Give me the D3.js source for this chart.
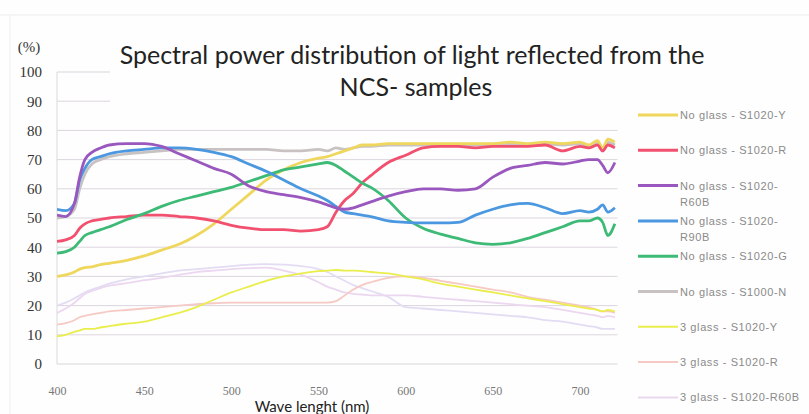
<!DOCTYPE html>
<html>
<head>
<meta charset="utf-8">
<script src="https://cdn.jsdelivr.net/npm/d3@7/dist/d3.min.js"></script>
<style>
  html, body { margin: 0; padding: 0; background: #fff; }
  #chartDiv { width: 809px; height: 414px; }
</style>
</head>
<body>
<div id="chartDiv"></div>
<script>
'use strict';

const wavelengths = [400,405,410,413,416,420,425,430,440,450,460,470,480,490,500,510,520,530,540,550,555,560,565,570,575,580,590,600,610,620,630,640,650,660,670,680,690,700,705,710,713,716,720];

// reflectance (%) per sample
const noGlassY    = [30,30.5,31.5,32.5,33,33.3,34,34.5,35.5,37,39,41,44,48,53,58,63,66.5,69,70.5,71,72,73,74,75,75,75.5,75.5,75.5,75.5,75.5,75.5,75.5,76,75.5,76,75.5,76,75,76.5,74,77,76];
const noGlassR    = [42,42.5,44,46.5,48,49,49.5,50,50.5,51,51,50.5,50,49,47.5,46.5,46,46,45.5,46,47,52,56,58.5,62,64.5,69,71.5,74,74.5,74.5,74,74.5,74.5,74.5,75,73,74.5,74,75,73,75,74];
const noGlassR60B = [51,50.5,55,64,70,72.5,74,75,75.5,75.5,74.5,72,69.5,67,65,61,59,58,57,55.5,54.5,53.5,53,53.5,54.5,55.5,57.5,59,60,60,59.5,60,64,67,68,69,68.5,69.5,70,70,68,65.5,69];
const noGlassR90B = [53,52.5,55,63,67,70,71,72,73,73.5,74,74,73.5,72.5,71,68.5,66,63,60,57.5,56,54,52,51.5,51,50.5,49,48.5,48.3,48.3,48.5,51,53,54.5,55,53.5,51.5,52.5,52,53,54.5,52,53.5];
const noGlassG    = [38,38.5,40,42,44,45,46,47,49.5,51.5,54,56,57.5,59,60.5,62.5,64.5,66.5,67.5,68.5,69,68,66,64,62,60.5,56,50,46.5,44.5,43,41.5,41,41.5,43,45,47,49,49,50,48.5,44,48];
const noGlassN    = [50,50.5,53,60,65,68.5,70,71,72,72.5,73,73.5,73.5,73.5,73.5,73.5,73.5,73,73,73.5,73,74,73.5,74,74.5,74.5,75,75,75,75,75,75,75,75.5,75,75.5,75,75.5,74.5,76,73,76,75];
const glass3Y     = [9.5,10,11,11.5,12,12,12.5,13,13.8,14.5,16,17.5,19.5,22,24.5,26.5,28.5,30,31,31.8,32,32.2,32,32,31.8,31.5,31,30,29,27.5,26.5,25.5,24.5,23.5,22.5,21.5,20.5,19.5,19,18.5,18,18.5,18];
const glass3R     = [13.5,14,15,16,16.5,17,17.5,18,18.5,19,19.5,20,20.5,20.8,21,21,21,21,21,21,21,21.5,23.5,25.5,27,28,29.5,30,29.5,28.5,27.5,26.5,25.5,24.5,23,22,21,20,19.5,18.5,18,18,17.5];
const glass3R60B  = [17.5,19,21,22.5,24,25,26,26.8,27.7,28.7,29.5,30.5,31.5,32,32.5,32.8,33,32,30.5,28,26.5,25.5,24.5,24,23.8,23.5,23.5,23.5,23,22.5,22,21.5,21,20.5,20,19.5,18.5,17.5,17,16.5,16,16.5,16];
// 4th faint curve, its legend entry is below the visible area
const glass3R90B  = [20,21,22.5,23.5,24.5,25.5,26.5,27.5,29,30,31,32,32.5,33,33.5,34,34.2,34,33.5,32.5,31.5,30,28.5,27,26,25,23,19.5,19,18.5,18,17.5,17,16.5,16,15,14.5,13.5,13,12.5,12,12,12];

const seriesNames = [
  'No glass - S1020-Y', 'No glass - S1020-R', 'No glass - S1020-R60B',
  'No glass - S1020-R90B', 'No glass - S1020-G', 'No glass - S1000-N',
  '3 glass - S1020-Y', '3 glass - S1020-R', '3 glass - S1020-R60B',
  '3 glass - S1020-R90B'
];
const seriesValues = [noGlassY, noGlassR, noGlassR60B, noGlassR90B, noGlassG, noGlassN,
  glass3Y, glass3R, glass3R60B, glass3R90B];
const seriesColors = ['#eed75c', '#f1506f', '#9a58bf', '#4b98e0', '#3dba76', '#c9c2c2',
  '#e9ee4c', '#f6c9c4', '#ecd7f0', '#e3dcf3'];
const legendCount = 9;

const yTicks = [0,10,20,30,40,50,60,70,80,90,100];
const xTicks = [400,450,500,550,600,650,700];

const W = 809, H = 414;

const xScale = d3.scaleLinear().domain([400, 700]).range([57, 580]);
const yScale = d3.scaleLinear().domain([0, 100]).range([364, 72]);
const plotRight = xScale(721.5);

const svg = d3.select('#chartDiv').append('svg')
  .attr('width', W)
  .attr('height', H);

svg.append('rect').attr('width', W).attr('height', H).attr('fill', '#fefefe');

// faint outer frame left over from the scan
svg.append('line').attr('x1', 0).attr('x2', W).attr('y1', 15).attr('y2', 15)
  .attr('stroke', '#ececec');
svg.append('line').attr('x1', 10).attr('x2', 10).attr('y1', 15).attr('y2', H)
  .attr('stroke', '#efefef');

// gridlines
svg.append('g').selectAll('line')
  .data(yTicks)
  .join('line')
  .attr('x1', xScale(400))
  .attr('x2', plotRight)
  .attr('y1', d => yScale(d))
  .attr('y2', d => yScale(d))
  .attr('stroke', d => d === 0 ? '#d6d6d6' : '#dcd6df')
  .attr('stroke-width', 1);

svg.append('line')
  .attr('x1', xScale(400)).attr('x2', xScale(400))
  .attr('y1', yScale(100)).attr('y2', yScale(0))
  .attr('stroke', '#dadada');

// title box hides the top gridlines
svg.append('rect')
  .attr('x', 110).attr('y', 18)
  .attr('width', 520).attr('height', 88)
  .attr('fill', '#fefefe');

const title = svg.append('text')
  .attr('text-anchor', 'middle')
  .attr('font-family', 'Lato, sans-serif')
  .attr('font-size', 25)
  .attr('fill', '#222');
title.append('tspan').attr('x', 412).attr('y', 64)
  .text('Spectral power distribution of light reflected from the');
title.append('tspan').attr('x', 416).attr('y', 96)
  .text('NCS- samples');

// y axis
const yAxis = svg.append('g')
  .attr('transform', 'translate(42,0)')
  .call(d3.axisLeft(yScale).tickValues(yTicks).tickSize(0).tickPadding(0));
yAxis.select('.domain').remove();
yAxis.selectAll('text')
  .attr('font-family', '"Liberation Serif", serif')
  .attr('font-size', 15)
  .attr('fill', '#333');

svg.append('text')
  .attr('x', 29).attr('y', 52)
  .attr('text-anchor', 'middle')
  .attr('font-family', '"Liberation Serif", serif')
  .attr('font-size', 15)
  .attr('fill', '#333')
  .text('(%)');

// x axis
const xAxis = svg.append('g')
  .attr('transform', 'translate(0,' + yScale(0) + ')')
  .call(d3.axisBottom(xScale).tickValues(xTicks).tickSize(0).tickPadding(22));
xAxis.select('.domain').remove();
xAxis.selectAll('text')
  .attr('font-family', '"Liberation Serif", serif')
  .attr('font-size', 12)
  .attr('fill', '#777');

svg.append('text')
  .attr('x', 312).attr('y', 412)
  .attr('text-anchor', 'middle')
  .attr('font-family', 'Lato, sans-serif')
  .attr('font-size', 15)
  .attr('fill', '#222')
  .text('Wave lenght (nm)');

// lines
svg.append('clipPath').attr('id', 'plotClip')
  .append('rect')
  .attr('x', xScale(400)).attr('y', yScale(100))
  .attr('width', plotRight - xScale(400)).attr('height', yScale(0) - yScale(100));

const line = d3.line()
  .x(d => xScale(d[0]))
  .y(d => yScale(d[1]))
  .curve(d3.curveMonotoneX);

const series = seriesValues.map((vals, i) => ({
  name: seriesNames[i],
  color: seriesColors[i],
  width: i < 6 ? 2.8 : 1.8,
  points: wavelengths.map((w, j) => [w, vals[j]])
}));

// faint 3-glass lines first, then the strong ones on top
const drawOrder = [9, 8, 7, 6, 5, 0, 1, 4, 3, 2];
svg.append('g').attr('clip-path', 'url(#plotClip)')
  .selectAll('path')
  .data(drawOrder.map(i => series[i]))
  .join('path')
  .attr('d', d => line(d.points))
  .attr('fill', 'none')
  .attr('stroke', d => d.color)
  .attr('stroke-width', d => d.width)
  .attr('stroke-linejoin', 'round');

// legend
const legend = svg.append('g');
const item = legend.selectAll('g')
  .data(series.slice(0, legendCount))
  .join('g')
  .attr('transform', (d, i) => 'translate(638,' + (115 + i * 35.3) + ')');

item.append('line')
  .attr('x1', 0).attr('x2', 40)
  .attr('stroke', d => d.color)
  .attr('stroke-width', d => d.width + 0.2);

item.append('text')
  .attr('x', 42)
  .attr('y', 4)
  .attr('font-family', '"Liberation Sans", sans-serif')
  .attr('font-size', 11)
  .attr('letter-spacing', 0.6)
  .attr('fill', '#8a8a8a')
  .each(function(d) {
    // long labels wrap after the last dash
    const t = d3.select(this);
    if (d.name.length > 20) {
      const k = d.name.lastIndexOf('-') + 1;
      t.append('tspan').attr('x', 42).text(d.name.slice(0, k));
      t.append('tspan').attr('x', 42).attr('dy', 16).text(d.name.slice(k));
    } else {
      t.text(d.name);
    }
  });
</script>
</body>
</html>
